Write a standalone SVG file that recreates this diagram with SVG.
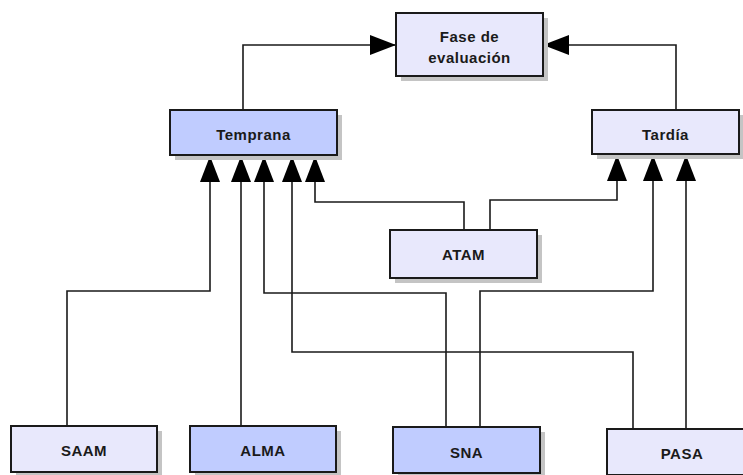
<svg xmlns="http://www.w3.org/2000/svg" width="743" height="475" viewBox="0 0 743 475">
<style>
.sh{fill:#c4c4c4}
.box{stroke:#1a1a1a;stroke-width:2}
.lt{fill:#e8e8fc}
.dk{fill:#c0ccff}
.t{font-family:"Liberation Sans",Arial,sans-serif;font-weight:bold;font-size:15px;letter-spacing:0.5px;fill:#1a1a1a;text-anchor:middle}
.c{fill:none;stroke:#1a1a1a;stroke-width:1.6}
</style>
<defs>
<marker id="ah" markerUnits="userSpaceOnUse" markerWidth="27" markerHeight="20" refX="26" refY="10" orient="auto">
<path d="M0,0 L26,10 L0,20 z" fill="#000"/>
</marker>
</defs>
<rect width="743" height="475" fill="#fff"/>
<g id="connectors">
<path class="c" d="M243,110 V45 H396" marker-end="url(#ah)"/>
<path class="c" d="M676,110 V45 H543" marker-end="url(#ah)"/>
<path class="c" d="M67,426 V291 H210 V156" marker-end="url(#ah)"/>
<path class="c" d="M241,426 V156" marker-end="url(#ah)"/>
<path class="c" d="M446,427 V293 H264 V156" marker-end="url(#ah)"/>
<path class="c" d="M480,427 V291 H653 V155" marker-end="url(#ah)"/>
<path class="c" d="M633,429 V352 H292 V156" marker-end="url(#ah)"/>
<path class="c" d="M686,429 V155" marker-end="url(#ah)"/>
<path class="c" d="M464,230 V202 H315 V156" marker-end="url(#ah)"/>
<path class="c" d="M490,230 V200 H617 V155" marker-end="url(#ah)"/>
</g>
<g id="fase">
<rect class="sh" x="401" y="18" width="147" height="63"/>
<rect class="box lt" x="396" y="13" width="147" height="63"/>
<text class="t" x="469.5" y="42">Fase de</text>
<text class="t" x="469.5" y="63">evaluación</text>
</g>
<g id="temprana">
<rect class="sh" x="175" y="115" width="167" height="45"/>
<rect class="box dk" x="170" y="110" width="167" height="45"/>
<text class="t" x="253.5" y="140">Temprana</text>
</g>
<g id="tardia">
<rect class="sh" x="597" y="115" width="147" height="44"/>
<rect class="box lt" x="592" y="110" width="147" height="44"/>
<text class="t" x="665.5" y="140">Tardía</text>
</g>
<g id="atam">
<rect class="sh" x="395" y="235" width="147" height="48"/>
<rect class="box lt" x="390" y="230" width="147" height="48"/>
<text class="t" x="463.5" y="260">ATAM</text>
</g>
<g id="saam">
<rect class="sh" x="16" y="431" width="146" height="46"/>
<rect class="box lt" x="11" y="426" width="146" height="46"/>
<text class="t" x="84" y="456">SAAM</text>
</g>
<g id="alma">
<rect class="sh" x="195" y="431" width="146" height="46"/>
<rect class="box dk" x="190" y="426" width="146" height="46"/>
<text class="t" x="263" y="456">ALMA</text>
</g>
<g id="sna">
<rect class="sh" x="398" y="432" width="147" height="46"/>
<rect class="box dk" x="393" y="427" width="147" height="46"/>
<text class="t" x="466.5" y="458">SNA</text>
</g>
<g id="pasa">
<rect class="sh" x="612" y="434" width="150" height="46"/>
<rect class="box lt" x="607" y="429" width="150" height="46"/>
<text class="t" x="682" y="459">PASA</text>
</g>
</svg>
